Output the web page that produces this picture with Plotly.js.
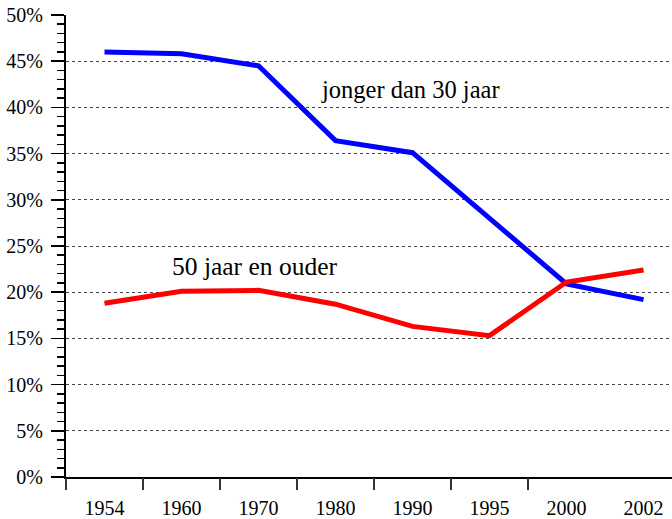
<!DOCTYPE html>
<html>
<head>
<meta charset="utf-8">
<script src="https://cdn.plot.ly/plotly-3.0.1.min.js"></script>
<style>html,body{margin:0;padding:0;background:#fff;overflow:hidden}</style>
</head>
<body>
<div id="chart" style="width:672px;height:519px"></div>
<script>
const years = ['1954','1960','1970','1980','1990','1995','2000','2002'];
const jonger = [46.0, 45.8, 44.5, 36.4, 35.1, 28.0, 20.9, 19.2];
const ouder = [18.8, 20.1, 20.2, 18.7, 16.3, 15.3, 21.1, 22.4];
const yTickVals = [0,5,10,15,20,25,30,35,40,45,50];
const yTickText = yTickVals.map(v => v + '%');
const labelJonger = 'jonger dan 30 jaar';
const labelOuder = '50 jaar en ouder';

const idx = years.map((_, i) => i);
const boundaries = years.slice(0, -1).map((_, i) => i - 0.5);

const fam = 'Liberation Serif, Times New Roman, serif';
const tickFont = {family: fam, size: 20, color: '#000'};

const traces = [
  {x: idx, y: jonger, mode: 'lines', line: {color: '#0000ff', width: 5}, hoverinfo: 'skip'},
  {x: idx, y: ouder, mode: 'lines', line: {color: '#ff0000', width: 5}, hoverinfo: 'skip'},
  {x: [0], y: [0], xaxis: 'x2', mode: 'markers', marker: {opacity: 0}, hoverinfo: 'skip'}
];

const layout = {
  width: 672, height: 519,
  margin: {l: 66, r: 0, t: 15, b: 42},
  paper_bgcolor: '#fff', plot_bgcolor: '#fff',
  showlegend: false,
  font: tickFont,
  xaxis: {
    range: [-0.5, 7.37], tickmode: 'array', tickvals: idx, ticktext: years,
    ticks: '', showgrid: false, zeroline: false, showline: true, linecolor: '#000', linewidth: 2,
    ticklabelstandoff: 12, tickfont: tickFont, fixedrange: true
  },
  xaxis2: {
    overlaying: 'x', range: [-0.5, 7.37], tickmode: 'array', tickvals: boundaries,
    showticklabels: false, ticks: 'outside', ticklen: 12, tickwidth: 1.5, tickcolor: '#333',
    showgrid: false, zeroline: false, showline: false, anchor: 'y'
  },
  yaxis: {
    range: [0, 50], tickmode: 'array', tickvals: yTickVals, ticktext: yTickText,
    ticks: 'outside', ticklen: 13, tickwidth: 1.5, tickcolor: '#000',
    showgrid: true, gridcolor: '#444', gridwidth: 1, griddash: '3px,3px',
    zeroline: false, showline: true, linecolor: '#000', linewidth: 2,
    tickfont: tickFont, ticklabelstandoff: 4,
    minor: {dtick: 1, tick0: 0, ticks: 'outside', ticklen: 7, tickwidth: 1.5, tickcolor: '#000', showgrid: false},
    fixedrange: true
  },
  annotations: [
    {x: 3.97, y: 41.9, xref: 'x', yref: 'y', text: labelJonger, showarrow: false, font: {family: fam, size: 24.5, color: '#000'}},
    {x: 1.95, y: 22.8, xref: 'x', yref: 'y', text: labelOuder, showarrow: false, font: {family: fam, size: 25.5, color: '#000'}}
  ]
};

Plotly.newPlot('chart', traces, layout, {staticPlot: true, displayModeBar: false});
</script>
</body>
</html>
